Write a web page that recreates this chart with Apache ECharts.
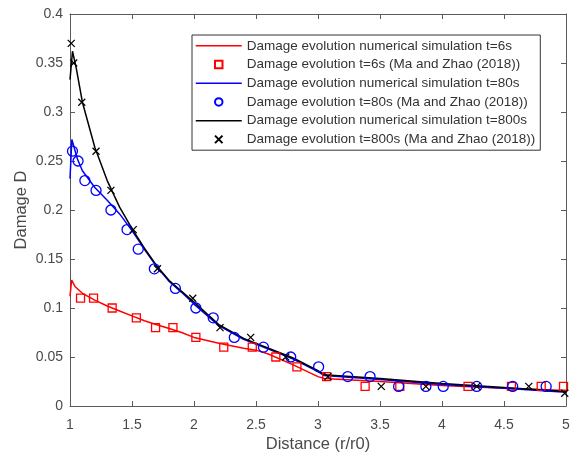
<!DOCTYPE html>
<html>
<head>
<meta charset="utf-8">
<script src="https://cdn.jsdelivr.net/npm/echarts@6/dist/echarts.min.js"></script>
<style>
html,body{margin:0;padding:0;background:#fff;}
#chart{width:578px;height:456px;}
</style>
</head>
<body>
<div id="chart"></div>
<script>
// ---- data ----
var xTicks = [1, 1.5, 2, 2.5, 3, 3.5, 4, 4.5, 5];
var yTicks = [0, 0.05, 0.1, 0.15, 0.2, 0.25, 0.3, 0.35, 0.4];

var seriesNames = [
  'Damage evolution numerical simulation t=6s',
  'Damage evolution t=6s (Ma and Zhao (2018))',
  'Damage evolution numerical simulation t=80s',
  'Damage evolution t=80s (Ma and Zhao (2018))',
  'Damage evolution numerical simulation t=800s',
  'Damage evolution t=800s (Ma and Zhao (2018))'
];

// numerical simulation t=6s
var sim6X = [1.0, 1.013, 1.04, 1.1, 1.2, 1.3, 1.4, 1.5, 1.6, 1.7, 1.8, 1.9, 2.0, 2.2, 2.4, 2.5, 2.6, 2.8, 3.0, 3.05, 3.5, 4.0, 4.5, 5.0];
var sim6Y = [0.112, 0.1285, 0.122, 0.115, 0.108, 0.102, 0.097, 0.092, 0.087, 0.083, 0.079, 0.075, 0.070, 0.064, 0.059, 0.057, 0.053, 0.042, 0.030, 0.028, 0.025, 0.021, 0.018, 0.0157];
// Ma and Zhao t=6s
var exp6X = [1.085, 1.19, 1.34, 1.535, 1.69, 1.83, 2.015, 2.24, 2.47, 2.66, 2.83, 3.07, 3.38, 3.66, 4.21, 4.56, 4.80, 4.98];
var exp6Y = [0.11, 0.11, 0.10, 0.09, 0.08, 0.08, 0.07, 0.06, 0.06, 0.05, 0.04, 0.03, 0.02, 0.02, 0.02, 0.02, 0.02, 0.02];

// numerical simulation t=80s
var sim80X = [1.0, 1.015, 1.06, 1.1, 1.2, 1.3, 1.4, 1.5, 1.6, 1.7, 1.8, 1.9, 2.0, 2.2, 2.4, 2.6, 2.8, 3.0, 3.05, 3.5, 4.0, 4.5, 5.0];
var sim80Y = [0.232, 0.272, 0.252, 0.240, 0.223, 0.210, 0.196, 0.179, 0.160, 0.142, 0.127, 0.116, 0.104, 0.082, 0.068, 0.058, 0.048, 0.035, 0.031, 0.027, 0.022, 0.018, 0.014];
// Ma and Zhao t=80s
var exp80X = [1.02, 1.065, 1.12, 1.21, 1.33, 1.46, 1.55, 1.68, 1.85, 2.015, 2.155, 2.325, 2.56, 2.78, 3.005, 3.24, 3.42, 3.65, 3.87, 4.01, 4.28, 4.57, 4.84];
var exp80Y = [0.26, 0.25, 0.23, 0.22, 0.20, 0.18, 0.16, 0.14, 0.12, 0.10, 0.09, 0.07, 0.06, 0.05, 0.04, 0.03, 0.03, 0.02, 0.02, 0.02, 0.02, 0.02, 0.02];

// numerical simulation t=800s
var sim800X = [1.0, 1.02, 1.05, 1.1, 1.2, 1.3, 1.4, 1.5, 1.6, 1.7, 1.8, 1.9, 2.0, 2.2, 2.4, 2.6, 2.8, 3.0, 3.05, 3.5, 4.0, 4.5, 5.0];
var sim800Y = [0.333, 0.362, 0.345, 0.310, 0.264, 0.230, 0.203, 0.181, 0.161, 0.143, 0.128, 0.117, 0.106, 0.083, 0.069, 0.059, 0.049, 0.036, 0.032, 0.028, 0.023, 0.019, 0.0147];
// Ma and Zhao t=800s
var exp800X = [1.01, 1.03, 1.095, 1.21, 1.33, 1.51, 1.705, 1.99, 2.21, 2.457, 2.74, 3.08, 3.51, 3.87, 4.28, 4.70, 4.99];
var exp800Y = [0.37, 0.35, 0.31, 0.26, 0.22, 0.18, 0.14, 0.11, 0.08, 0.07, 0.05, 0.03, 0.02, 0.02, 0.02, 0.02, 0.013];

function zip(xs, ys) { return xs.map(function (x, i) { return [x, ys[i]]; }); }

var axisColor = '#5a5a5a';
var textColor = '#4a4a4a';
var fontFamily = 'Liberation Sans, Arial, Helvetica, sans-serif';

var chart = echarts.init(document.getElementById('chart'), null, {renderer: 'canvas'});

function lineSeries(name, xs, ys, color) {
  return {
    name: name, type: 'line', data: zip(xs, ys), symbol: 'none', smooth: false,
    lineStyle: {color: color, width: 1.5}, itemStyle: {color: color},
    xAxisIndex: 0, yAxisIndex: 0, animation: false, z: 3
  };
}
function scatterSeries(name, xs, ys, symbol, size, color, bw) {
  return {
    name: name, type: 'scatter', data: zip(xs, ys), symbol: symbol, symbolSize: size,
    itemStyle: {color: 'transparent', borderColor: color, borderWidth: bw, opacity: 1},
    xAxisIndex: 0, yAxisIndex: 0, animation: false, z: 4
  };
}

var squarePath = 'path://M0,0L10,0L10,10L0,10Z';
var crossPath = 'path://M0,0L10,10M10,0L0,10';
var lineColors = ['#ff0000', '#0000ff', '#000000'];

var legendData = seriesNames.map(function (n, i) {
  if (i % 2 === 0) {
    return {name: n, itemStyle: {color: 'transparent', borderColor: 'transparent', borderWidth: 0, opacity: 0},
            lineStyle: {color: lineColors[i / 2], width: 1.5}};
  }
  return {name: n};
});

var option = {
  animation: false,
  backgroundColor: '#fff',
  textStyle: {fontFamily: fontFamily},
  grid: {left: 70, right: 12, top: 14, bottom: 50, containLabel: false, outerBoundsMode: 'none'},
  legend: {
    orient: 'vertical', left: 192, top: 35,
    itemWidth: 46, itemHeight: 7.5, itemGap: 0,
    padding: [1.5, 5, 1.5, 3],
    backgroundColor: '#fff', borderColor: '#333', borderWidth: 1,
    textStyle: {fontSize: 13.5, color: '#333', lineHeight: 18.7, fontFamily: fontFamily},
    data: legendData,
    selectedMode: false
  },
  xAxis: [{
    type: 'value', min: xTicks[0], max: xTicks[xTicks.length - 1], interval: xTicks[1] - xTicks[0],
    position: 'bottom',
    name: 'Distance (r/r0)', nameLocation: 'middle', nameGap: 30, nameMoveOverlap: false,
    nameTextStyle: {fontSize: 16.5, color: textColor, fontFamily: fontFamily},
    axisLine: {show: true, onZero: false, lineStyle: {color: axisColor, width: 1}},
    axisTick: {show: true, inside: true, length: 5, lineStyle: {color: axisColor}},
    axisLabel: {fontSize: 14, color: textColor, margin: 12, fontFamily: fontFamily},
    splitLine: {show: false}
  }, {
    type: 'value', min: xTicks[0], max: xTicks[xTicks.length - 1], interval: xTicks[1] - xTicks[0],
    position: 'top',
    axisLine: {show: true, onZero: false, lineStyle: {color: axisColor, width: 1}},
    axisTick: {show: true, inside: true, length: 5, lineStyle: {color: axisColor}},
    axisLabel: {show: false}, splitLine: {show: false}
  }],
  yAxis: [{
    type: 'value', min: yTicks[0], max: yTicks[yTicks.length - 1], interval: yTicks[1] - yTicks[0],
    position: 'left',
    name: 'Damage D', nameLocation: 'middle', nameGap: 40, nameMoveOverlap: false,
    nameTextStyle: {fontSize: 16.5, color: textColor, fontFamily: fontFamily},
    axisLine: {show: true, onZero: false, lineStyle: {color: axisColor, width: 1}},
    axisTick: {show: true, inside: true, length: 5, lineStyle: {color: axisColor}},
    axisLabel: {fontSize: 14, color: textColor, margin: 7, fontFamily: fontFamily},
    splitLine: {show: false}
  }, {
    type: 'value', min: yTicks[0], max: yTicks[yTicks.length - 1], interval: yTicks[1] - yTicks[0],
    position: 'right',
    axisLine: {show: true, onZero: false, lineStyle: {color: axisColor, width: 1}},
    axisTick: {show: true, inside: true, length: 5, lineStyle: {color: axisColor}},
    axisLabel: {show: false}, splitLine: {show: false}
  }],
  series: [
    lineSeries(seriesNames[0], sim6X, sim6Y, lineColors[0]),
    scatterSeries(seriesNames[1], exp6X, exp6Y, squarePath, 8, '#ff0000', 1.3),
    lineSeries(seriesNames[2], sim80X, sim80Y, lineColors[1]),
    scatterSeries(seriesNames[3], exp80X, exp80Y, 'circle', 10, '#0000ff', 1.3),
    lineSeries(seriesNames[4], sim800X, sim800Y, lineColors[2]),
    scatterSeries(seriesNames[5], exp800X, exp800Y, crossPath, 7, '#000000', 1.3)
  ]
};
chart.setOption(option);
</script>
</body>
</html>
